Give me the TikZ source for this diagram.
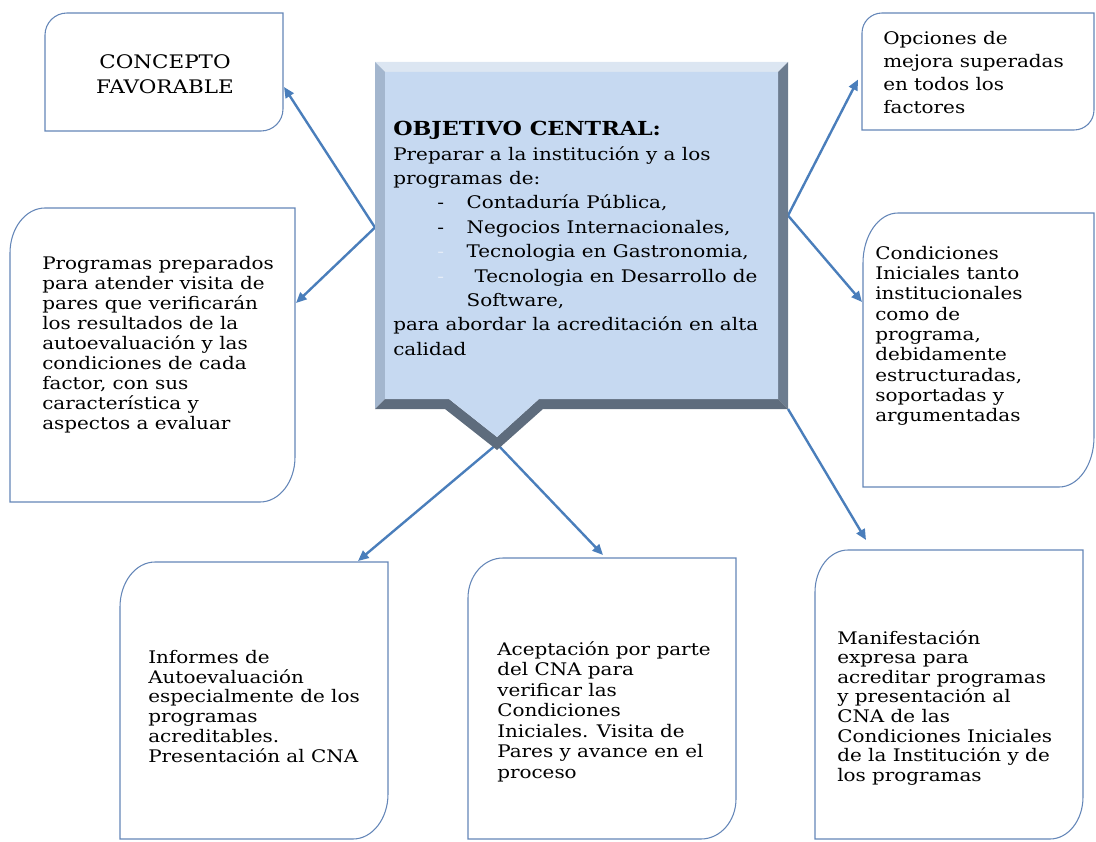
\documentclass[tikz,border=0pt]{standalone}
\usepackage{fontspec}
\setmainfont{DejaVu Serif}[FakeStretch=1.15]
\usetikzlibrary{arrows.meta, positioning, calc, fit}

\definecolor{framecol}{HTML}{6486B8}
\definecolor{arrowcol}{HTML}{4A7EBB}
\definecolor{bluefill}{HTML}{C6D9F1}
\definecolor{bevtop}{HTML}{DCE6F2}
\definecolor{bevleft}{HTML}{A3B6CE}
\definecolor{bevright}{HTML}{6C7C8F}
\definecolor{bevbottom}{HTML}{5E6C7D}
\definecolor{faintdash}{HTML}{E4ECF7}

% frame with rounded top-left and bottom-right corners
\newcommand{\diagframe}[3]{%
  \draw[framed] ($(#1.north west)+(0,-#3)$) arc[start angle=180, end angle=90, x radius=#2, y radius=#3]
    -- (#1.north east) -- ($(#1.south east)+(0,#3)$)
    arc[start angle=0, end angle=-90, x radius=#2, y radius=#3] -- (#1.south west) -- cycle;}

\begin{document}
\begin{tikzpicture}[x=0.75pt, y=0.75pt,
    area/.style={inner sep=0pt, outer sep=0pt},
    framed/.style={draw=framecol, line width=0.8pt, fill=white},
    boxtext/.style={anchor=north west, inner sep=0pt, align=left, font=\fontsize{13}{#1}\selectfont},
    boxtext/.default=15,
    link/.style={draw=arrowcol, line width=1.8pt, -{Triangle[length=8pt, width=7pt]}}
  ]
  \useasboundingbox (0,0) rectangle (1096,-842);

  % outer boxes
  \node[area, fit={(45,-13) (283,-131)}] (concepto) {};
  \node[area, fit={(10,-208) (295,-502)}] (programas) {};
  \node[area, fit={(862,-13) (1094,-130)}] (opciones) {};
  \node[area, fit={(863,-213) (1094,-487)}] (condiciones) {};
  \node[area, fit={(120,-562) (388,-839)}] (informes) {};
  \node[area, fit={(468,-558) (736,-839)}] (aceptacion) {};
  \node[area, fit={(815,-550) (1083,-839)}] (manifestacion) {};

  \diagframe{concepto}{22}{22}
  \diagframe{programas}{35}{45}
  \diagframe{opciones}{20}{20}
  \diagframe{condiciones}{35}{50}
  \diagframe{informes}{35}{45}
  \diagframe{aceptacion}{35}{40}
  \diagframe{manifestacion}{33}{42}

  \node[inner sep=0pt, align=center, font=\fontsize{14}{18.5}\selectfont] at (165,-74) {CONCEPTO\\FAVORABLE};
  \node[boxtext=15] at (42,-256) {Programas preparados\\para atender visita de\\pares que verificarán\\los resultados de la\\autoevaluación y las\\condiciones de cada\\factor, con sus\\característica y\\aspectos a evaluar};
  \node[boxtext=17.2] at (883,-31) {Opciones de\\mejora superadas\\en todos los\\factores};
  \node[boxtext=15.2] at (875,-246) {Condiciones\\Iniciales tanto\\institucionales\\como de\\programa,\\debidamente\\estructuradas,\\soportadas y\\argumentadas};
  \node[boxtext=14.8] at (148,-650) {Informes de\\Autoevaluación\\especialmente de los\\programas\\acreditables.\\Presentación al CNA};
  \node[boxtext=15.4] at (497,-641) {Aceptación por parte\\del CNA para\\verificar las\\Condiciones\\Iniciales. Visita de\\Pares y avance en el\\proceso};
  \node[boxtext=14.7] at (837,-630) {Manifestación\\expresa para\\acreditar programas\\y presentación al\\CNA de las\\Condiciones Iniciales\\de la Institución y de\\los programas};

  % central callout
  \node[area, fit={(375,-62) (788,-409)}] (objetivo) {};
  \coordinate (tip) at (497,-450);
  \coordinate (lsrc) at ($(objetivo.west)+(0,8)$);
  \coordinate (rsrc) at ($(objetivo.east)+(0,20)$);

  % connectors
  \draw[link] (lsrc) -- ($(concepto.east)+(1,-15)$);
  \draw[link] (lsrc) -- ($(programas.east)+(1,52)$);
  \draw[link] (rsrc) -- ($(opciones.west)+(-4,-8)$);
  \draw[link] (rsrc) -- ($(condiciones.west)+(-1,48)$);
  \draw[link] (objetivo.south east) -- ($(manifestacion.north)+(-83,10)$);
  \draw[link] ($(tip)+(0,6)$) -- ($(informes.north)+(104,1)$);
  \draw[link] ($(tip)+(0,6)$) -- ($(aceptacion.north)+(1,3)$);

  % bevelled callout body
  \fill[bevtop] (objetivo.north west) -- (objetivo.north east) -- (778,-72) -- (385,-72) -- cycle;
  \fill[bevright] (objetivo.north east) -- (objetivo.south east) -- (778,-399) -- (778,-72) -- cycle;
  \fill[bevleft] (objetivo.north west) -- (385,-72) -- (385,-399) -- (objetivo.south west) -- cycle;
  \fill[bevbottom] (objetivo.south east) -- (543,-409) -- (tip) -- (445,-409) -- (objetivo.south west)
    -- (385,-399) -- (449,-399) -- (497,-437) -- (539,-399) -- (778,-399) -- cycle;
  \fill[bluefill] (385,-72) -- (778,-72) -- (778,-399) -- (539,-399) -- (497,-437) -- (449,-399) -- (385,-399) -- cycle;

  \node[anchor=north west, inner sep=0pt, align=left, font=\fontsize{13}{18.3}\selectfont] at (393,-121)
    {{\fontsize{14.5}{18.3}\selectfont\bfseries OBJETIVO CENTRAL:}\\
     Preparar a la institución y a los\\
     programas de:\\
     \makebox[55pt][l]{\hspace*{33pt}-}Contaduría Pública,\\
     \makebox[55pt][l]{\hspace*{33pt}-}Negocios Internacionales,\\
     \makebox[55pt][l]{\hspace*{33pt}\textcolor{faintdash}{-}}Tecnologia en Gastronomia,\\
     \makebox[61pt][l]{\hspace*{33pt}\textcolor{faintdash}{-}}Tecnologia en Desarrollo de\\
     \hspace*{55pt}Software,\\
     para abordar la acreditación en alta\\
     calidad};
\end{tikzpicture}
\end{document}
